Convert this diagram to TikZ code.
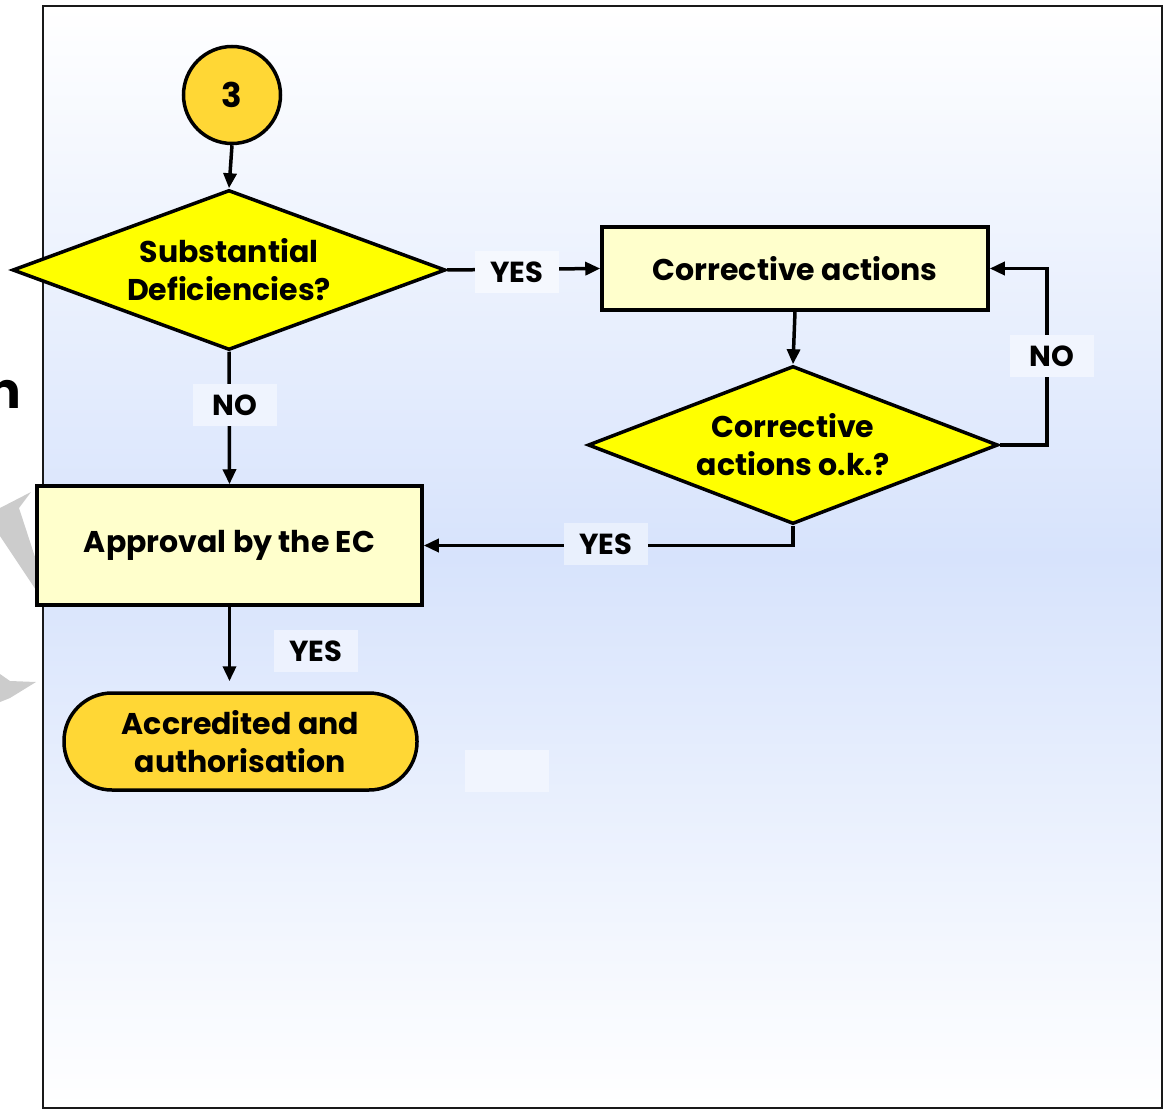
\documentclass[tikz,border=0pt]{standalone}
\usepackage{fontspec}
\setmainfont{Poppins}
\usetikzlibrary{shapes.geometric,arrows.meta,calc}
\definecolor{gold}{HTML}{FFD735}
\definecolor{dyellow}{HTML}{FFFF00}
\definecolor{boxfill}{HTML}{FFFFCC}
\definecolor{bgblue}{RGB}{215,227,252}
\definecolor{wmgray}{HTML}{CCCCCC}
\tikzset{
  txt/.style={font=\fontsize{30}{38}\selectfont\bfseries, align=center, text=black},
  shp/.style={draw=black, line width=3.5pt, txt},
  dec/.style={shp, diamond, fill=dyellow, inner sep=0pt},
  procbox/.style={shp, rectangle, fill=boxfill},
  termbox/.style={shp, rectangle, rounded corners=48pt, fill=gold},
  conn/.style={circle, shp, fill=gold, minimum size=97pt, inner sep=0pt, font=\fontsize{34}{38}\selectfont\bfseries},
  arr/.style={line width=3.5pt, -{Triangle[length=15pt,width=13pt]}},
  lbl/.style={txt, font=\fontsize{29}{38}\selectfont\bfseries, minimum width=84pt, minimum height=42pt, inner sep=0pt, fill=#1}
}
\begin{document}
\begin{tikzpicture}[x=1pt,y=-1pt]
\useasboundingbox (0,0) rectangle (1163,1110);
% background panel
\shade[top color=white, bottom color=white, middle color=bgblue] (43,6) rectangle (1162,1108);
% watermark fragments and cut title letter outside the panel
\fill[wmgray] (0,508) -- (31,492) -- (19,508) -- (36,560) -- (36,590) -- (0,536) -- cycle;
\fill[wmgray] (0,674) -- (10,681) -- (36,682) -- (10,698) -- (0,702) -- cycle;
\node[anchor=base east, inner sep=0pt, font=\fontsize{50}{50}\selectfont\bfseries] (ttl) at (21,408) {n};
\draw[line width=2.5pt, black!90] (43,6) rectangle (1162,1108);

% nodes
\node[conn] (c3) at (232,95) {3};
\node[dec, minimum width=433pt, minimum height=160pt, aspect=2.7] (d1) at (229,270) {Substantial\\Deficiencies?};
\node[procbox, minimum width=386pt, minimum height=83pt] (b1) at (795,268.5) {Corrective actions};
\node[dec, minimum width=410pt, minimum height=158pt, aspect=2.6] (d2) at (793,445) {Corrective\\actions o.k.?};
\node[procbox, minimum width=385pt, minimum height=119pt] (b2) at (229.5,545.5) {Approval by the EC};
\node[termbox, minimum width=353pt, minimum height=97pt] (t1) at (240.5,741.5) {Accredited and\\authorisation};
\coordinate (nox) at (1047,0);

% connectors
\draw[arr] (c3.south) -- (d1.north);
\draw[arr] (d1.east) -- (b1.west);
\draw[arr] (b1.south) -- (d2.north);
\draw[arr] (d2.east) -- (d2.east -| nox) |- (b1.east);
\draw[arr] (d2.south) |- (b2.east);
\draw[arr] (d1.south) -- (b2.north);
\draw[arr, shorten >=10pt] (b2.south) -- (b2.south |- t1.north);

% labels
\node[lbl=bgblue!26!white] (yes1) at (517,272) {YES};
\node[lbl=bgblue!36!white] (no2) at (1052,356) {NO};
\node[lbl=bgblue!40!white] (no1) at (235,405) {NO};
\node[lbl=bgblue!55!white] (yes2) at (606,544) {YES};
\node[lbl=bgblue!46!white] (yes3) at (316,651) {YES};
\node[lbl=bgblue!34!white] (empty) at (507,771) {};
\end{tikzpicture}
\end{document}
